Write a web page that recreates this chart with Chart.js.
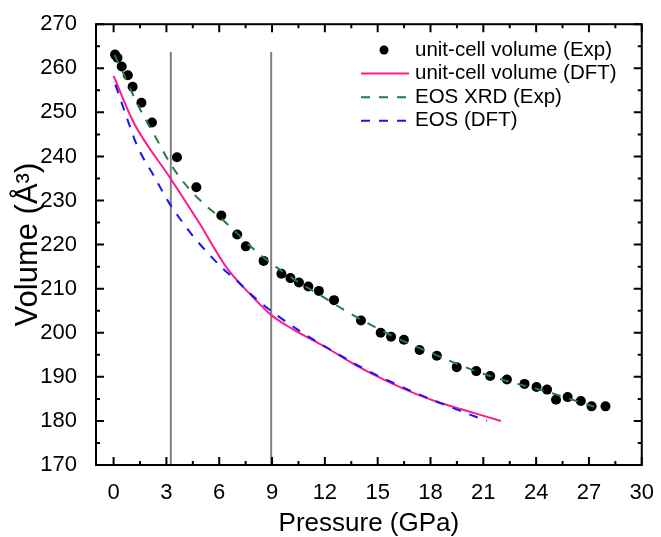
<!DOCTYPE html>
<html lang="en">
<head>
    <meta charset="UTF-8">
    <title>Volume vs Pressure</title>
    <script src="https://cdn.jsdelivr.net/npm/chart.js"></script>
    <style>
        body { margin: 0; background: #fff; }
        .container { width: 661px; height: 537px; }
    </style>
</head>
<body>
    <div class="container">
        <canvas id="myChart" width="661" height="537"></canvas>
    </div>
    <script>
        // measured unit-cell volume (Exp)
        const expP = [0.08, 0.22, 0.46, 0.81, 1.08, 1.58, 2.18, 3.6, 4.7, 6.12, 7.02, 7.51, 8.52, 9.53, 10.04, 10.53, 11.06, 11.66,
            12.52, 14.05, 15.17, 15.76, 16.49, 17.38, 18.36, 19.49, 20.6, 21.39, 22.34, 23.34, 24.02, 24.62, 25.13, 25.79, 26.54, 27.15, 27.94];
        const expV = [263.1, 262.4, 260.4, 258.4, 255.8, 252.2, 247.7, 239.8, 233.0, 226.6, 222.3, 219.6, 216.3, 213.4, 212.4, 211.4, 210.5, 209.5,
            207.4, 202.8, 200.0, 199.1, 198.4, 196.1, 194.8, 192.2, 191.3, 190.2, 189.4, 188.4, 187.7, 187.1, 184.8, 185.4, 184.5, 183.3, 183.3];

        // unit-cell volume (DFT)
        const dftP = [0, 1.1, 3.25, 4.85, 6.4, 7.6, 8.96, 10.1, 12.1, 13.9, 15.8, 17.3, 18.4, 19.8, 22.0];
        const dftV = [258.3, 248.0, 234.9, 225.0, 214.9, 209.4, 204.0, 201.0, 196.6, 192.3, 188.5, 185.9, 184.3, 182.6, 180.0];

        // EOS fit to XRD
        const xrdP = [0.05, 0.42, 1.36, 2.3, 3.25, 4.3, 5.2, 6.15, 7.0, 8.0, 9.0, 10.5, 11.74, 13.34, 15.98, 18.4, 20.5, 22.3, 24.47, 27.3];
        const xrdV = [263.0, 260.0, 251.8, 245.0, 238.2, 232.6, 229.0, 225.8, 222.6, 218.8, 215.6, 211.5, 208.5, 204.6, 199.0, 194.8, 191.4, 189.1, 186.8, 183.2];

        // EOS (DFT)
        const eosP = [0.1, 0.9, 1.36, 2.3, 3.1, 4.3, 4.66, 6.2, 7.0, 8.06, 9.2, 10.5, 12.3, 14.3, 16.5, 17.9, 19.8, 21.2];
        const eosV = [256.3, 247.1, 242.2, 235.5, 229.8, 223.0, 221.2, 214.6, 211.8, 207.8, 204.2, 200.6, 196.2, 191.7, 187.5, 185.1, 182.1, 180.0];

        // grey guide lines (pressure, volume span)
        const guideP = [3.25, 8.95];
        const guideV = [170, 263.7];

        const xTicks = [0, 3, 6, 9, 12, 15, 18, 21, 24, 27, 30];
        const yTicks = [170, 180, 190, 200, 210, 220, 230, 240, 250, 260, 270];

        const FONT = '"Liberation Sans", Arial, sans-serif';
        const toXY = (xs, ys) => xs.map((x, i) => ({ x: x, y: ys[i] }));

        // ticks pointing inward on all four sides, plus the box
        const frameTicks = {
            id: 'frameTicks',
            afterDatasetsDraw(chart) {
                const { ctx, chartArea: a, scales: { x, y } } = chart;
                const mids = v => v.slice(1).map((t, i) => (t + v[i]) / 2);
                const xv = x.ticks.map(t => t.value);
                const yv = y.ticks.map(t => t.value);
                ctx.save();
                ctx.strokeStyle = '#000';
                ctx.lineWidth = 2;
                ctx.beginPath();
                const xt = (vals, len) => vals.forEach(v => {
                    const px = x.getPixelForValue(v);
                    ctx.moveTo(px, a.bottom); ctx.lineTo(px, a.bottom - len);
                    ctx.moveTo(px, a.top); ctx.lineTo(px, a.top + len);
                });
                const yt = (vals, len) => vals.forEach(v => {
                    const py = y.getPixelForValue(v);
                    ctx.moveTo(a.left, py); ctx.lineTo(a.left + len, py);
                    ctx.moveTo(a.right, py); ctx.lineTo(a.right - len, py);
                });
                xt(xv, 8); xt(mids(xv), 4);
                yt(yv, 8); yt(mids(yv), 4);
                ctx.stroke();
                ctx.strokeRect(a.left, a.top, a.right - a.left, a.bottom - a.top);
                ctx.restore();
            }
        };

        // legend in the upper right of the plot
        const boxLegend = {
            id: 'boxLegend',
            afterDraw(chart) {
                const ctx = chart.ctx;
                const items = chart.data.datasets.filter(d => d.inLegend);
                ctx.save();
                ctx.font = '20.5px ' + FONT;
                ctx.textBaseline = 'middle';
                items.forEach((d, i) => {
                    const yy = 50 + i * 23.6;
                    if (d.showLine === false) {
                        ctx.beginPath();
                        ctx.arc(384, yy, 4.5, 0, Math.PI * 2);
                        ctx.fillStyle = d.backgroundColor;
                        ctx.fill();
                    } else {
                        ctx.beginPath();
                        ctx.setLineDash(d.borderDash || []);
                        ctx.strokeStyle = d.borderColor;
                        ctx.lineWidth = d.borderWidth;
                        ctx.moveTo(361, yy);
                        ctx.lineTo(409, yy);
                        ctx.stroke();
                        ctx.setLineDash([]);
                    }
                    ctx.fillStyle = '#000';
                    ctx.fillText(d.label, 415, yy);
                });
                ctx.restore();
            }
        };

        const ctx = document.getElementById('myChart').getContext('2d');

        const myChart = new Chart(ctx, {
            type: 'line',
            data: {
                datasets: [{
                    label: 'unit-cell volume (Exp)',
                    data: toXY(expP, expV),
                    showLine: false,
                    pointRadius: 5,
                    pointBackgroundColor: '#000',
                    pointBorderWidth: 0,
                    backgroundColor: '#000',
                    inLegend: true,
                    order: 4
                }, {
                    label: 'unit-cell volume (DFT)',
                    data: toXY(dftP, dftV),
                    borderColor: '#ff1a8c',
                    borderWidth: 2,
                    pointRadius: 0,
                    cubicInterpolationMode: 'monotone',
                    inLegend: true,
                    order: 2
                }, {
                    label: 'EOS XRD (Exp)',
                    data: toXY(xrdP, xrdV),
                    borderColor: '#267a3e',
                    borderWidth: 2,
                    borderDash: [9, 9],
                    pointRadius: 0,
                    cubicInterpolationMode: 'monotone',
                    inLegend: true,
                    order: 0
                }, {
                    label: 'EOS (DFT)',
                    data: toXY(eosP, eosV),
                    borderColor: '#1414ff',
                    borderWidth: 2,
                    borderDash: [9, 9],
                    pointRadius: 0,
                    cubicInterpolationMode: 'monotone',
                    inLegend: true,
                    order: 1
                },
                ...guideP.map(p => ({
                    label: 'guide',
                    data: guideV.map(v => ({ x: p, y: v })),
                    borderColor: '#808080',
                    borderWidth: 2,
                    pointRadius: 0,
                    order: 3
                }))]
            },
            options: {
                responsive: false,
                animation: false,
                layout: { padding: { top: 22, right: 14, left: 0, bottom: 0 } },
                plugins: {
                    legend: { display: false },
                    tooltip: { enabled: false }
                },
                scales: {
                    x: {
                        type: 'linear',
                        min: -1,
                        max: 30,
                        afterBuildTicks: s => { s.ticks = xTicks.map(v => ({ value: v })); },
                        afterFit: s => { s.height = 72; },
                        grid: { display: false },
                        border: { display: false },
                        ticks: { color: '#000', padding: 7, font: { family: FONT, size: 22 }, maxRotation: 0 },
                        title: {
                            display: true,
                            text: 'Pressure (GPa)',
                            color: '#000',
                            font: { family: FONT, size: 26, lineHeight: 1 },
                            padding: 0
                        }
                    },
                    y: {
                        type: 'linear',
                        min: 170,
                        max: 270,
                        afterBuildTicks: s => { s.ticks = yTicks.map(v => ({ value: v })); },
                        afterFit: s => { s.width = 96; },
                        grid: { display: false },
                        border: { display: false },
                        ticks: { color: '#000', padding: 11, font: { family: FONT, size: 22 } },
                        title: {
                            display: true,
                            text: 'Volume (Å³)',
                            color: '#000',
                            font: { family: FONT, size: 31, lineHeight: 1 },
                            padding: { top: 13, bottom: 0 }
                        }
                    }
                }
            },
            plugins: [frameTicks, boxLegend]
        });
    </script>
</body>
</html>
